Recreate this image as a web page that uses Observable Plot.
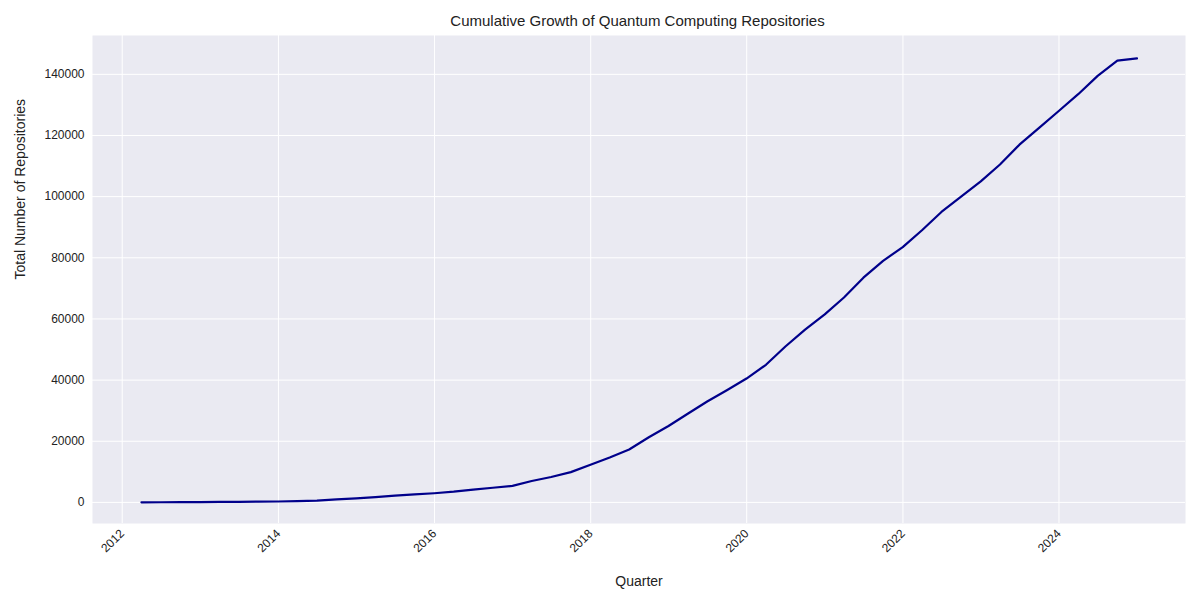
<!DOCTYPE html>
<html>
<head>
<meta charset="utf-8">
<script src="https://cdn.jsdelivr.net/npm/d3@7"></script>
<script src="https://cdn.jsdelivr.net/npm/@observablehq/plot@0.6"></script>
<style>
  body { margin: 0; background: #fff; font-family: "Liberation Sans", Arial, sans-serif; }
  #title { height: 33px; line-height: 42px; text-align: center; font-size: 15px; color: #222; padding-left: 75px; }
</style>
</head>
<body>
<div id="title">Cumulative Growth of Quantum Computing Repositories</div>
<div id="chart"></div>
<script>
// quarter-end dates 2012Q1 .. 2024Q4
const years = d3.range(2012, 2025)
const quarterEnds = ['03-31', '06-30', '09-30', '12-31']
const quarters = years.flatMap(y => quarterEnds.map(q => `${y}-${q}`))

const totals = [
  20, 50, 80,
  120, 160, 200, 250,
  300, 400, 600, 1000,
  1300, 1700, 2200, 2600,
  3000, 3500, 4200, 4800,
  5400, 7000, 8300, 9900,
  12300, 14700, 17300, 21300,
  25000, 29000, 33000, 36700,
  40500, 45000, 51000, 56500,
  61500, 67000, 73500, 79000,
  83500, 89000, 95000, 100000,
  105000, 110500, 117000, 122500,
  128000, 133500, 139500, 144500, 145200
]

const data = quarters.map((q, i) => ({quarter: new Date(q), total: totals[i]}))

const chart = Plot.plot({
  width: 1200,
  height: 567,
  marginTop: 2,
  marginBottom: 77,
  marginLeft: 92,
  marginRight: 15,
  style: {fontFamily: '"Liberation Sans", Arial, sans-serif', fontSize: '12px', color: '#222'},
  x: {
    type: 'utc',
    domain: [new Date('2011-08-15'), new Date('2025-08-15')],
    ticks: d3.utcYear.every(2),
    tickFormat: '%Y',
    label: null
  },
  y: {domain: [-6900, 152700], label: null},
  marks: [
    Plot.frame({fill: '#eaeaf2', stroke: null}),
    Plot.gridX({ticks: d3.utcYear.every(2), stroke: '#fff', strokeOpacity: 1, strokeWidth: 1}),
    Plot.gridY({ticks: d3.range(0, 160000, 20000), stroke: '#fff', strokeOpacity: 1, strokeWidth: 1}),
    Plot.axisX({ticks: d3.utcYear.every(2), tickFormat: '%Y', tickSize: 0, tickPadding: 8, tickRotate: -45, fontSize: 12, label: null}),
    Plot.axisY({ticks: d3.range(0, 160000, 20000), tickFormat: d => String(d), tickSize: 0, tickPadding: 8, fontSize: 12, label: null}),
    Plot.line(data, {x: 'quarter', y: 'total', stroke: '#00008b', strokeWidth: 2.2}),
    Plot.text(['Quarter'], {frameAnchor: 'bottom', dy: 62, fontSize: 14, fill: '#222'}),
    Plot.text(['Total Number of Repositories'], {frameAnchor: 'left', dx: -72, rotate: -90, fontSize: 14, fill: '#222'})
  ]
})

d3.select('#chart').append(() => chart)
</script>
</body>
</html>
